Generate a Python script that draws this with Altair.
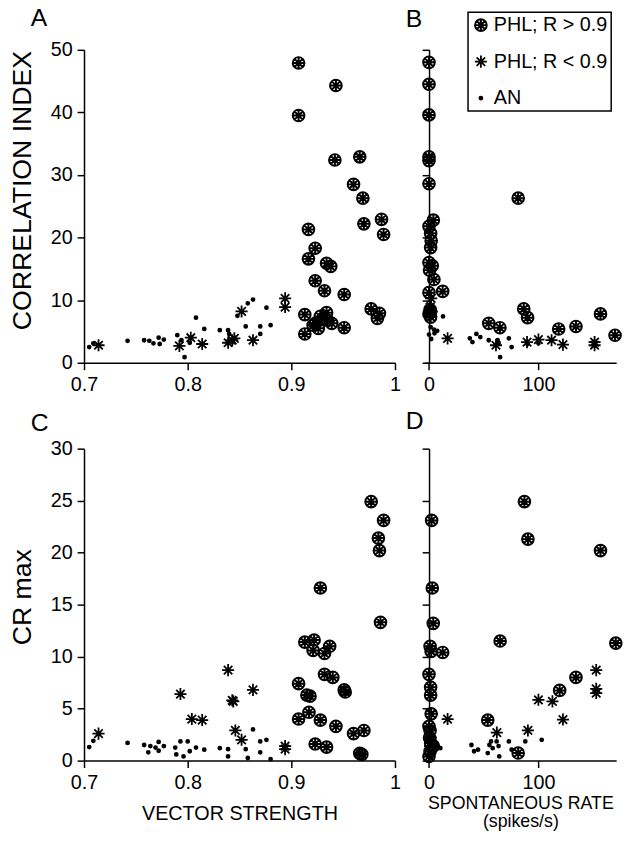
import altair as alt
import pandas as pd

GROUPS = ["PHL; R > 0.9", "PHL; R < 0.9", "AN"]
FONT = "Liberation Sans"

# ---------------- Panel A: vector strength vs correlation index ----------------
a_circ_vs = [0.907, 0.943, 0.907, 0.942, 0.966, 0.960, 0.969, 0.970, 0.987, 0.989, 0.9165, 0.923,
             0.9165, 0.934, 0.938, 0.923, 0.932, 0.951, 0.977, 0.985, 0.983, 0.913, 0.913, 0.921,
             0.923, 0.928, 0.934, 0.930, 0.939, 0.951, 0.926, 0.935]
a_circ_ci = [47.9, 44.3, 39.5, 32.4, 32.9, 28.5, 26.3, 22.2, 22.9, 20.5, 21.3, 18.3,
             16.6, 15.9, 15.4, 13.1, 11.5, 10.9, 8.6, 7.9, 7.1, 7.7, 4.6, 6.0,
             6.3, 7.4, 8.0, 7.0, 6.3, 5.6, 5.5, 6.8]
a_star_vs = [0.714, 0.792, 0.803, 0.814, 0.839, 0.843, 0.845, 0.852, 0.863, 0.894, 0.894]
a_star_ci = [2.8, 2.7, 4.0, 3.0, 3.2, 3.6, 3.9, 8.2, 3.6, 10.3, 8.9]
a_dot_vs = [0.705, 0.709, 0.742, 0.758, 0.763, 0.767, 0.772, 0.773, 0.777, 0.790, 0.794, 0.797, 0.802,
            0.808, 0.816, 0.831, 0.839, 0.840, 0.848, 0.858, 0.863, 0.856, 0.870, 0.870, 0.876, 0.880]
a_dot_ci = [2.5, 3.1, 3.5, 3.6, 3.5, 3.1, 4.0, 3.0, 3.7, 4.4, 3.6, 0.9, 3.2,
            7.2, 5.4, 5.2, 5.2, 4.6, 7.5, 9.5, 10.1, 5.8, 5.8, 4.6, 8.8, 6.0]

# ---------------- Panel B: spontaneous rate vs correlation index ----------------
b_circ_sr = [0, 0, 0, 0, 0, 0, 81.5, 4, 0, 1.5, 1.5, 0, 3, 4.5, 0, 12.5, 1.5, 0, 1.5,
             54.6, 64.8, 86.6, 90.1, 118.5, 134.3, 156.7, 170, 2, 0.5, 1]
b_circ_ci = [48.0, 44.5, 39.6, 32.9, 32.3, 28.6, 26.3, 22.8, 21.8, 20.7, 18.4, 16.0, 15.5, 13.3, 11.2, 11.4, 8.1, 7.8, 7.3,
             6.3, 5.6, 8.6, 7.2, 5.4, 5.8, 7.8, 4.4, 19.5, 14.8, 8.5]
b_star_sr = [17, 61.2, 89.6, 100, 112, 122.4, 151.3, 151.3, 2, 1, 2.5]
b_star_ci = [3.9, 2.8, 3.3, 3.7, 3.6, 2.9, 3.3, 2.8, 10.3, 8.9, 8.2]
b_dot_sr = [0, 12.8, 4.5, 7.5, 1.5, 2, 5, 37.3, 39.7, 43.3, 46.9, 54.6, 62.7, 65, 73, 75.5, 63.6, 90, 100]
b_dot_ci = [4.5, 7.4, 5.3, 5.1, 5.7, 3.8, 4.7, 3.9, 3.3, 4.6, 4.1, 3.6, 3.6, 0.9, 3.9, 2.5, 3.1, 3.0, 3.1]

# ---------------- Panel C: vector strength vs CR max ----------------
c_circ_vs = [0.977, 0.989, 0.984, 0.985, 0.928, 0.986, 0.913, 0.922, 0.937, 0.921, 0.932, 0.932, 0.940,
             0.951, 0.907, 0.915, 0.918, 0.907, 0.917, 0.928, 0.943, 0.960, 0.970, 0.923, 0.934, 0.966,
             0.968, 0.952]
c_circ_cr = [24.9, 23.1, 21.4, 20.2, 16.6, 13.3, 11.4, 11.6, 11.0, 10.6, 10.3, 8.3, 8.0,
             6.8, 7.4, 6.3, 6.2, 4.0, 4.65, 3.9, 3.3, 2.6, 2.9, 1.6, 1.3, 0.7,
             0.6, 6.6]
c_star_vs = [0.714, 0.793, 0.804, 0.814, 0.839, 0.843, 0.844, 0.846, 0.852, 0.863, 0.894, 0.894]
c_star_cr = [2.6, 6.4, 4.0, 3.9, 8.7, 5.8, 5.7, 2.9, 2.0, 6.8, 1.4, 1.1]
c_dot_vs = [0.705, 0.709, 0.742, 0.758, 0.762, 0.764, 0.769, 0.772, 0.772, 0.777, 0.788, 0.789, 0.793,
            0.796, 0.800, 0.802, 0.808, 0.816, 0.831, 0.839, 0.839, 0.856, 0.858, 0.863, 0.870, 0.870,
            0.876, 0.880]
c_dot_cr = [1.3, 1.9, 1.7, 1.5, 0.8, 1.4, 1.25, 1.8, 0.95, 1.4, 1.25, 0.6, 1.85,
            0.4, 1.85, 0.9, 1.25, 1.05, 1.2, 1.1, 0.4, 1.1, 0.25, 3.0, 0.8, 1.85,
            2.0, 0.15]

# ---------------- Panel D: spontaneous rate vs CR max ----------------
d_circ_sr = [87.2, 90.4, 156.7, 2.4, 3, 3.9, 1, 2, 12.5, 65, 170.7, 134.3, 119.4, 53.7, 81.5,
             0, 1.5, 1.5, 2, 0, 1, 1.5, 1, 0, 4, 0.5]
d_circ_cr = [24.9, 21.3, 20.2, 23.1, 16.6, 13.2, 11.0, 10.5, 10.4, 11.5, 11.3, 8.0, 6.75, 3.9, 0.73,
             8.3, 7.05, 6.3, 4.5, 3.3, 2.9, 1.7, 0.9, 0.4, 1.4, 2.2]
d_star_sr = [17, 62, 90.4, 100, 112.8, 122.4, 152.8, 152.8, 152.8, 1, 2, 0.5]
d_star_cr = [4.0, 2.7, 2.9, 5.85, 5.7, 3.95, 8.7, 6.9, 6.5, 1.4, 1.1, 2.0]
d_dot_sr = [38.8, 41.2, 44.8, 55.2, 53.7, 56.7, 58.2, 61.8, 63.6, 64.2, 73, 75.5, 88, 103,
            10.4, 7.5, 4.5, 3, 1, 5, 2]
d_dot_cr = [1.5, 0.9, 1.05, 1.5, 0.73, 1.85, 1.2, 1.85, 1.4, 0.4, 1.85, 1.05, 1.85, 2.0,
            1.2, 1.4, 0.7, 1.8, 2.5, 2.2, 0.3]

CIRC = ("M1,0A1,1,0,1,1,-1,0A1,1,0,1,1,1,0Z"
        "M0,-1L0,1M-1,0L1,0M-0.7,-0.7L0.7,0.7M-0.7,0.7L0.7,-0.7")
STAR = "M0,-1L0,1M-1,0L1,0M-0.7,-0.7L0.7,0.7M-0.7,0.7L0.7,-0.7"

shape_scale = alt.Scale(domain=GROUPS, range=[CIRC, STAR, "circle"])
size_scale = alt.Scale(type="ordinal", domain=GROUPS, range=[140, 150, 6])
sw_scale = alt.Scale(type="ordinal", domain=GROUPS, range=[2.0, 1.8, 2.4])


def frame(parts):
    rows = []
    for g, (xs, ys) in zip(GROUPS, parts):
        for x, y in zip(xs, ys):
            rows.append({"x": x, "y": y, "group": g})
    return pd.DataFrame(rows)


def panel(df, xdom, xvals, xfmt, xtitle, ydom, yvals, ytitle, ylabels, letter, letter_dx,
          letter_offset, w, h, legend, yoffset=0, ytitle_y=None, xtitle_pad=None, xtitle_size=None):
    xaxis = dict(values=xvals, format=xfmt, title=xtitle, labelFlush=False, grid=False)
    if xtitle_pad is not None:
        xaxis["titlePadding"] = xtitle_pad
    if xtitle_size is not None:
        xaxis["titleFontSize"] = xtitle_size
    yaxis = dict(values=yvals, labels=ylabels, title=ytitle, grid=False, offset=yoffset)
    if ytitle_y is not None:
        yaxis["titleY"] = ytitle_y
    return alt.Chart(df, title=alt.TitleParams(
        text=letter, anchor="start", frame="group", dx=letter_dx, offset=letter_offset,
        fontSize=25, fontWeight="normal", font=FONT, color="black")).mark_point(
        color="black", filled=False, opacity=1).encode(
        x=alt.X("x:Q", scale=alt.Scale(domain=xdom, nice=False, zero=False), axis=alt.Axis(**xaxis)),
        y=alt.Y("y:Q", scale=alt.Scale(domain=ydom, nice=False, zero=False), axis=alt.Axis(**yaxis)),
        shape=alt.Shape("group:N", scale=shape_scale, legend=legend),
        size=alt.Size("group:N", scale=size_scale, legend=legend),
        strokeWidth=alt.StrokeWidth("group:N", scale=sw_scale, legend=legend),
    ).properties(width=w, height=h)


legend_b = alt.Legend(title=None, orient="none", legendX=44, legendY=-38,
                      labelFontSize=20, labelFont=FONT, labelColor="black", labelLimit=300,
                      strokeColor="black", fillColor="white", padding=3, rowPadding=17,
                      labelOffset=3, symbolStrokeColor="black", symbolFillColor="transparent")

WL, WR = 315, 194

A = panel(frame([(a_circ_vs, a_circ_ci), (a_star_vs, a_star_ci), (a_dot_vs, a_dot_ci)]),
          [0.7, 1.0], [0.7, 0.8, 0.9, 1.0], ".1~f", None,
          [0, 50], [0, 10, 20, 30, 40, 50], "CORRELATION INDEX", True,
          "A", -54, 9, WL, 317, None, ytitle_y=142)
B = panel(frame([(b_circ_sr, b_circ_ci), (b_star_sr, b_star_ci), (b_dot_sr, b_dot_ci)]),
          [-4, 171], [0, 100], "d", None,
          [0, 50], [0, 10, 20, 30, 40, 50], None, False,
          "B", -19, -21, WR, 317, legend_b, yoffset=-4.5)
C = panel(frame([(c_circ_vs, c_circ_cr), (c_star_vs, c_star_cr), (c_dot_vs, c_dot_cr)]),
          [0.7, 1.0], [0.7, 0.8, 0.9, 1.0], ".1~f", "VECTOR STRENGTH",
          [0, 30], [0, 5, 10, 15, 20, 25, 30], "CR max", True,
          "C", -54, 3, WL, 316, None, ytitle_y=150, xtitle_pad=12, xtitle_size=20)
D = panel(frame([(d_circ_sr, d_circ_cr), (d_star_sr, d_star_cr), (d_dot_sr, d_dot_cr)]),
          [-4, 171], [0, 100], "d", ["SPONTANEOUS RATE", "(spikes/s)"],
          [0, 30], [0, 5, 10, 15, 20, 25, 30], None, False,
          "D", -19, 14, WR, 316, None, yoffset=-4.5, xtitle_pad=3, xtitle_size=18)

chart = alt.concat(A, B, C, D, columns=2, spacing={"row": 87, "column": 30}, bounds="flush").resolve_legend(
    shape="independent", size="independent", strokeWidth="independent"
).properties(
    padding={"left": 0, "top": -7, "right": 0, "bottom": 0}
).configure_view(stroke=None).configure_axis(
    labelFont=FONT, labelFontSize=20, labelColor="black", labelPadding=5,
    titleFont=FONT, titleFontSize=20, titleFontWeight="normal", titleColor="black",
    domainColor="black", domainWidth=1.5, tickColor="black", tickWidth=1.5, tickSize=7,
).configure_axisY(titleFontSize=27, titlePadding=14).configure_axisX(
    titleLineHeight=18
).configure_legend(strokeWidth=1.5)

chart.save("out.html", embed_options={"renderer": "svg", "actions": False})
